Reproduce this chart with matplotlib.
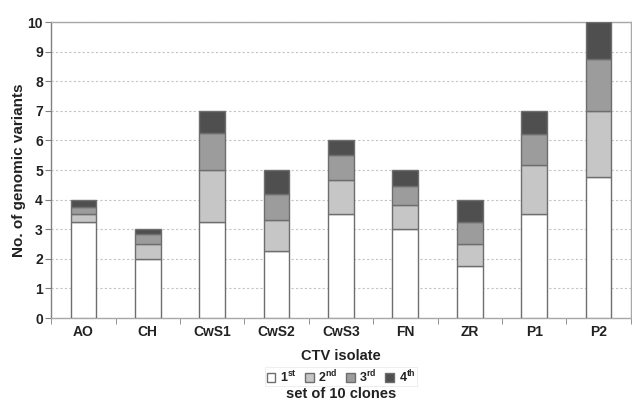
import matplotlib.pyplot as plt
import numpy as np

plt.rcParams['font.family'] = ['Liberation Sans', 'DejaVu Sans']

# Stacked genomic-variant counts per CTV isolate (set of 10 clones)
isolates = ['AO', 'CH', 'CwS1', 'CwS2', 'CwS3', 'FN', 'ZR', 'P1', 'P2']
first = [3.25, 2.0, 3.25, 2.25, 3.5, 3.0, 1.75, 3.5, 4.75]
second = [0.25, 0.5, 1.75, 1.05, 1.15, 0.83, 0.75, 1.67, 2.25]
third = [0.25, 0.35, 1.25, 0.9, 0.85, 0.64, 0.75, 1.05, 1.75]
fourth = [0.25, 0.15, 0.75, 0.8, 0.5, 0.53, 0.75, 0.78, 1.25]
set_labels = ['1$^{\\mathregular{st}}$', '2$^{\\mathregular{nd}}$',
              '3$^{\\mathregular{rd}}$', '4$^{\\mathregular{th}}$']
colors = ['#ffffff', '#c6c6c6', '#9c9c9c', '#4f4f4f']

fig = plt.figure(figsize=(6.32, 4.0), dpi=100)
ax = fig.add_axes([0.081, 0.205, 0.917, 0.74])

x = np.arange(len(isolates))
bottom = np.zeros(len(isolates))
handles = []
for vals, col, lab in zip([first, second, third, fourth], colors, set_labels):
    b = ax.bar(x, vals, width=0.4, bottom=bottom, color=col,
               edgecolor='#6e6e6e', linewidth=1.0, label=lab, zorder=3)
    handles.append(b)
    bottom += np.array(vals)

ax.set_xlim(-0.5, len(isolates) - 0.5)
ax.set_ylim(0, 10)
ax.set_yticks(range(0, 11))
ax.yaxis.grid(True, linestyle=(0, (2, 2)), color='#c4c4c4', linewidth=0.8, zorder=0)

ax.set_xticks(x)
ax.set_xticklabels(isolates, fontsize=10, fontweight='bold', color='#222222')
ax.set_xticks(np.arange(-0.5, len(isolates)), minor=True)
ax.tick_params(axis='x', which='major', length=0, pad=5)
ax.tick_params(axis='x', which='minor', length=4, color='#808080', direction='out')
ax.tick_params(axis='y', length=4, color='#808080', labelsize=10, pad=2,
               labelcolor='#222222')
for t in ax.get_yticklabels():
    t.set_fontweight('bold')

for side in ['left', 'bottom', 'top', 'right']:
    ax.spines[side].set_color('#a8a8a8')
    ax.spines[side].set_linewidth(1.0)
ax.spines['left'].set_color('#808080')

ax.set_ylabel('No. of genomic variants', fontsize=11, fontweight='bold',
              color='#222222', labelpad=1)
ax.set_xlabel('CTV isolate', fontsize=10.5, fontweight='bold',
              color='#222222', labelpad=7)

# legend and its caption sit centred under the plot area
cx = 0.081 + 0.917 / 2
leg = fig.legend(handles=handles, labels=set_labels, loc='center',
                 bbox_to_anchor=(cx, 0.058), ncol=4, fontsize=9,
                 frameon=True, fancybox=False, handlelength=0.7,
                 handleheight=0.7, handletextpad=0.35, columnspacing=0.7,
                 borderpad=0.1, borderaxespad=0)
leg.get_frame().set_edgecolor('#e6e6e6')
leg.get_frame().set_linewidth(0.6)
for t in leg.get_texts():
    t.set_fontweight('bold')
    t.set_color('#222222')

fig.text(cx, 0.016, 'set of 10 clones', ha='center', va='center',
         fontsize=10.5, fontweight='bold', color='#222222')

fig.savefig('out.png', dpi=100)
